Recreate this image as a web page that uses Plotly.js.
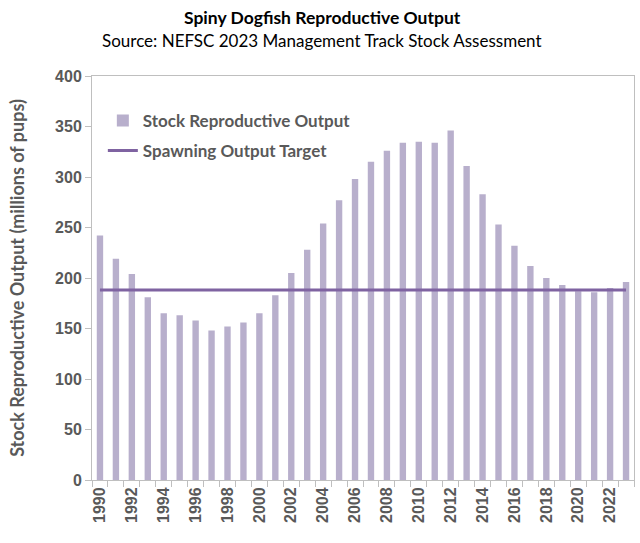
<!DOCTYPE html>
<html><head><meta charset="utf-8">
<script src="https://cdn.plot.ly/plotly-3.0.1.min.js"></script>
<style>html,body{margin:0;padding:0;background:#fff}#chart{width:640px;height:543px}</style>
</head><body><div id="chart"></div>
<script>
const years = [1990,1991,1992,1993,1994,1995,1996,1997,1998,1999,2000,2001,2002,2003,2004,2005,2006,2007,2008,2009,2010,2011,2012,2013,2014,2015,2016,2017,2018,2019,2020,2021,2022,2023];
const reproductiveOutput = [242,219,204,181,165,163,158,148,152,156,165,183,205,228,254,277,298,315,326,334,335,334,346,311,283,253,232,212,200,193,187,186,190,196];
const targetValue = 188;
const targetLine = years.map(() => targetValue);
const yTicks = [0,50,100,150,200,250,300,350,400];
const xTickYears = years.filter(y => (y - 1990) % 2 === 0);
const titleText = 'Spiny Dogfish Reproductive Output';
const subtitleText = 'Source: NEFSC 2023 Management Track Stock Assessment';

const grey = '#595959';
const calibri = 'Lato, "Open Sans", sans-serif';
const arial = '"Liberation Sans", Arial, sans-serif';

const traces = [
  {type:'bar', x: years, y: reproductiveOutput, name:'Stock Reproductive Output',
   marker:{color:'#b8afcc'}, width:0.4, legend:'legend'},
  {type:'scatter', mode:'lines', x: years, y: targetLine, name:'Spawning Output Target',
   line:{color:'#7f63a1', width:3}, legend:'legend2'}
];

const ph = 543 - 76 - 63;
const layout = {
  width:640, height:543,
  margin:{l:92, r:6, t:76, b:63},
  paper_bgcolor:'#fff', plot_bgcolor:'#fff',
  showlegend:true,
  annotations:[
    {text:titleText, xref:'paper', yref:'paper', x:(322-92)/542, y:1 + (76-17)/ph, xanchor:'center', yanchor:'middle',
     showarrow:false, font:{family:calibri, size:17.5, color:'#000', weight:'bold'}},
    {text:subtitleText, xref:'paper', yref:'paper', x:(322-92)/542, y:1 + (76-41)/ph, xanchor:'center', yanchor:'middle',
     showarrow:false, font:{family:calibri, size:17, color:'#000'}}
  ],
  xaxis:{range:[1989.5, 2023.5], tickmode:'array', tickvals:xTickYears, ticktext:xTickYears.map(String),
         tickangle:-90, ticks:'', tickfont:{family:arial, size:16, color:grey, weight:'bold'},
         showline:true, linecolor:'#bfbfbf', linewidth:1, mirror:true, showgrid:false, zeroline:false,
         minor:{tick0:1989.5, dtick:1, ticks:'outside', ticklen:6, tickcolor:'#bfbfbf', tickwidth:1, showgrid:false}},
  yaxis:{range:[0,400], tickmode:'array', tickvals:yTicks, ticks:'outside', ticklen:6, tickcolor:'#bfbfbf',
         tickfont:{family:arial, size:16, color:grey, weight:'bold'}, showline:true, linecolor:'#bfbfbf', linewidth:1, mirror:true,
         showgrid:false, zeroline:false,
         title:{text:'Stock Reproductive Output (millions of pups)', font:{family:calibri, size:18, color:grey, weight:'bold'}, standoff:25}},
  legend:{x:0.02, xanchor:'left', y:1 - (115 - 76 - 12) / ph, yanchor:'top',
          font:{family:calibri, size:17, color:grey, weight:'bold'}, bgcolor:'rgba(0,0,0,0)'},
  legend2:{x:0.02, xanchor:'left', y:1 - (145 - 76 - 12) / ph, yanchor:'top',
          font:{family:calibri, size:17, color:grey, weight:'bold'}, bgcolor:'rgba(0,0,0,0)'}
};

Plotly.newPlot('chart', traces, layout, {displayModeBar:false, staticPlot:true});
</script>
</body></html>
